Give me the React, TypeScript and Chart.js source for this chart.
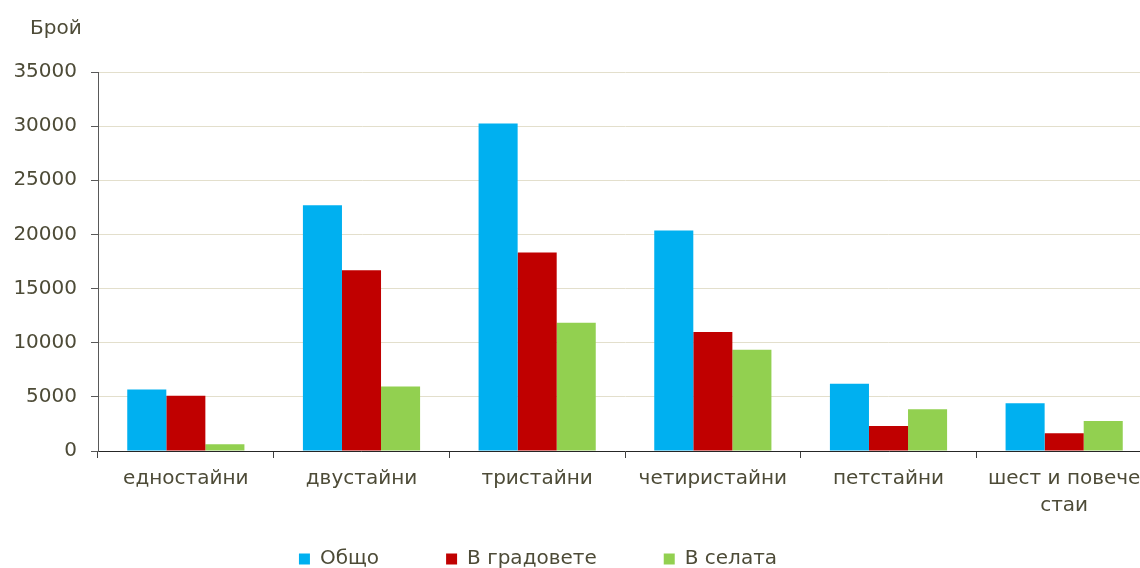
import React, { useEffect, useRef } from 'react';
import { Chart, registerables } from 'chart.js';

Chart.register(...registerables);

const categories: (string | string[])[] = [
  'едностайни',
  'двустайни',
  'тристайни',
  'четиристайни',
  'петстайни',
  ['шест и повече', 'стаи'],
];
const seriesNames = ['Общо', 'В градовете', 'В селата'];
const totalValues = [5680, 22700, 30250, 20370, 6200, 4400];
const cityValues = [5100, 16700, 18330, 11000, 2300, 1640];
const villageValues = [620, 5950, 11850, 9350, 3860, 2780];
const yTicks = [0, 5000, 10000, 15000, 20000, 25000, 30000, 35000];
const yAxisTitle = 'Брой';

const TEXT = '#4d4b37';
const FONT = "'DejaVu Sans', Verdana, sans-serif";

const titlePlugin = {
  id: 'yTitle',
  afterDraw(chart: any) {
    const { ctx, chartArea } = chart;
    ctx.save();
    ctx.fillStyle = TEXT;
    ctx.font = `20px ${FONT}`;
    ctx.textAlign = 'left';
    ctx.textBaseline = 'alphabetic';
    ctx.fillText(yAxisTitle, chartArea.left - 68, chartArea.top - 38);
    ctx.restore();
  },
};

const legendShift = {
  id: 'legendShift',
  afterLayout(chart: any) {
    const l = chart.legend;
    if (!l) return;
    const dx = -38;
    const dy = -44;
    l.left += dx;
    l.right += dx;
    l.top += dy;
    l.bottom += dy;
  },
};

export default function App() {
  const ref = useRef<HTMLCanvasElement | null>(null);
  useEffect(() => {
    if (!ref.current) return;
    const chart = new Chart(ref.current, {
      type: 'bar',
      data: {
        labels: categories as any,
        datasets: [
          { label: seriesNames[0], data: totalValues, backgroundColor: '#00b0f0' },
          { label: seriesNames[1], data: cityValues, backgroundColor: '#c00000' },
          { label: seriesNames[2], data: villageValues, backgroundColor: '#92d050' },
        ],
      },
      options: {
        animation: false,
        responsive: false,
        layout: { padding: { top: 72, right: 8, left: 0, bottom: 0 } },
        datasets: { bar: { categoryPercentage: 0.667, barPercentage: 1 } } as any,
        scales: {
          x: {
            grid: {
              display: true,
              drawOnChartArea: false,
              tickLength: 7,
              tickColor: '#404040',
              offset: true,
            },
            border: { color: '#262626', width: 1 },
            ticks: {
              color: TEXT,
              padding: 7,
              maxRotation: 0,
              autoSkip: false,
              font: { family: FONT, size: 20, lineHeight: 1.35 },
            },
          },
          y: {
            min: 0,
            max: 35000,
            afterBuildTicks: (scale: any) => {
              scale.ticks = yTicks.map((v) => ({ value: v }));
            },
            afterFit: (scale: any) => {
              scale.width = 98;
            },
            grid: {
              color: '#e3dfcc',
              tickColor: '#595959',
              tickLength: 7,
            },
            border: { color: '#595959', width: 1 },
            ticks: {
              color: TEXT,
              padding: 14,
              font: { family: FONT, size: 20 },
              callback: (v: any) => String(v),
            },
          },
        },
        plugins: {
          legend: {
            position: 'bottom',
            labels: {
              boxWidth: 11,
              boxHeight: 11,
              padding: 67,
              color: TEXT,
              font: { family: FONT, size: 20 },
            },
          },
          tooltip: { enabled: false },
        },
      },
      plugins: [titlePlugin, legendShift],
    });
    return () => chart.destroy();
  }, []);

  return (
    <div
      style={{
        position: 'fixed',
        left: 0,
        top: 0,
        width: 1140,
        height: 568,
        overflow: 'hidden',
        background: '#ffffff',
      }}
    >
      <canvas ref={ref} width={1160} height={623} style={{ display: 'block' }} />
    </div>
  );
}
